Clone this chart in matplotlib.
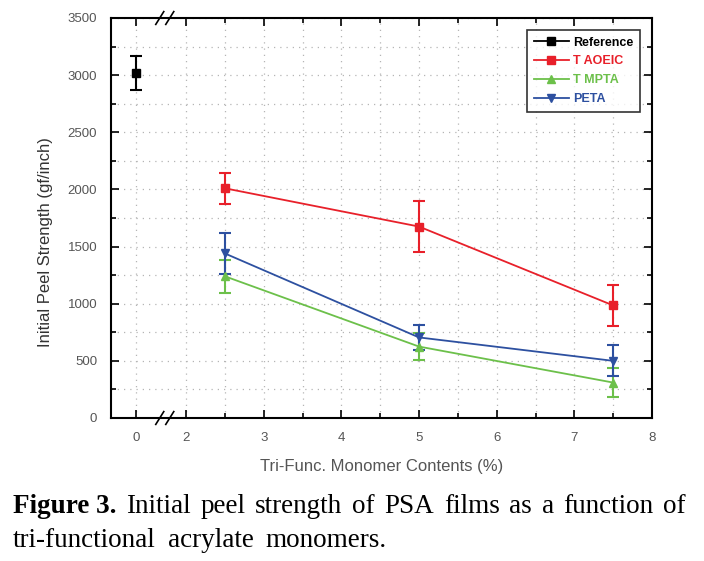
import numpy as np
import matplotlib.pyplot as plt
from matplotlib.ticker import MultipleLocator, FixedLocator

# monomer content (%), x = 0 is the reference PSA without monomer
ref_x = [0]
ref_y = [3020]
ref_err = [150]

x_mono = [2.5, 5.0, 7.5]
taoeic_y = [2010, 1675, 985]
taoeic_err = [135, 220, 180]
tmpta_y = [1240, 625, 310]
tmpta_err = [145, 120, 128]
peta_y = [1440, 705, 500]
peta_err = [180, 110, 135]

y_ticks = [0, 500, 1000, 1500, 2000, 2500, 3000, 3500]
x_ticks = [0, 2, 3, 4, 5, 6, 7, 8]

caption_1 = ["Initial", "peel", "strength", "of", "PSA", "films", "as", "a",
             "function", "of"]
caption_2 = ["tri-functional", "acrylate", "monomers."]

K = 0.322  # compression of the broken 0..2 segment


def fwd(x):
    x = np.asarray(x, dtype=float)
    return np.where(x < 2, 2 - (2 - x) * K, x)


def inv(x):
    x = np.asarray(x, dtype=float)
    return np.where(x < 2, 2 - (2 - x) / K, x)


plt.rcParams["font.family"] = ["Liberation Sans", "DejaVu Sans"]

fig = plt.figure(figsize=(7.04, 5.61), dpi=100)
ax = fig.add_axes([111 / 704, 1 - 418 / 561, 541 / 704, 400 / 561])
ax.set_xscale("function", functions=(fwd, inv))

series = [
    ("Reference", ref_x, ref_y, ref_err, "black", "s"),
    ("T AOEIC", x_mono, taoeic_y, taoeic_err, "#e8202a", "s"),
    ("T MPTA", x_mono, tmpta_y, tmpta_err, "#6cc04a", "^"),
    ("PETA", x_mono, peta_y, peta_err, "#2d50a0", "v"),
]
handles = []
for label, xs, ys, es, color, marker in series:
    cont = ax.errorbar(xs, ys, yerr=es, color=color, marker=marker,
                       markersize=6, linewidth=1.3, elinewidth=1.5,
                       capsize=4, capthick=1.5, label=label)
    handles.append(cont[0])

ax.set_xlim(-1, 8)
ax.set_ylim(0, 3500)
ax.xaxis.set_major_locator(FixedLocator(x_ticks))
ax.xaxis.set_minor_locator(FixedLocator([2.5, 3.5, 4.5, 5.5, 6.5, 7.5]))
ax.yaxis.set_major_locator(FixedLocator(y_ticks))
ax.yaxis.set_minor_locator(MultipleLocator(250))

ax.tick_params(which="both", direction="in", top=True, right=True,
               labelcolor="#555555", labelsize=9.5, width=1.2)
ax.tick_params(which="major", length=6, pad=10)
ax.tick_params(which="minor", length=3.5)
ax.grid(which="both", color="#b5b5b5", linestyle=(0, (1, 4)), linewidth=0.9)
for sp in ax.spines.values():
    sp.set_linewidth(1.5)

ax.set_ylabel("Initial Peel Strength (gf/inch)", fontsize=12, color="#333333")
ax.yaxis.set_label_coords(-0.107, 0.44)
ax.set_xlabel("Tri-Func. Monomer Contents (%)", fontsize=12, color="#555555",
              labelpad=11)

# axis break marks
for yb in (0, 1):
    for xb in (0.95, 1.35):
        ax.plot([xb - 0.16, xb + 0.16], [yb - 0.016, yb + 0.016],
                color="black", linewidth=1.2,
                transform=ax.get_xaxis_transform(), clip_on=False)

leg = ax.legend(handles=handles, labels=[s[0] for s in series],
                loc="upper right", bbox_to_anchor=(0.982, 0.977),
                fontsize=9, frameon=True, fancybox=False, edgecolor="black",
                handlelength=2.8, borderpad=0.55, labelspacing=0.55,
                handletextpad=0.3, borderaxespad=0.2, markerscale=0.9)
leg.get_frame().set_linewidth(1.2)
for txt, (_, _, _, _, color, _) in zip(leg.get_texts(), series):
    txt.set_color(color)
    txt.set_fontweight("bold")

# caption, first line justified between x = 13 and x = 686
renderer = fig.canvas.get_renderer()
cap_kw = dict(family="Liberation Serif", fontsize=19.5, va="baseline")
head = fig.text(13 / 704, 1 - 513 / 561, "Figure 3.", fontweight="bold",
                **cap_kw)
x_px = head.get_window_extent(renderer).x1
words = [fig.text(0, 1 - 513 / 561, w, **cap_kw) for w in caption_1]
widths = [w.get_window_extent(renderer).width for w in words]
gap = (686 - x_px - sum(widths)) / len(words)
for w, wd in zip(words, widths):
    x_px += gap
    w.set_x(x_px / 704)
    x_px += wd

x_px = 13
for w in caption_2:
    t = fig.text(x_px / 704, 1 - 547 / 561, w, **cap_kw)
    x_px += t.get_window_extent(renderer).width + 12

fig.savefig("out.png", dpi=100)
